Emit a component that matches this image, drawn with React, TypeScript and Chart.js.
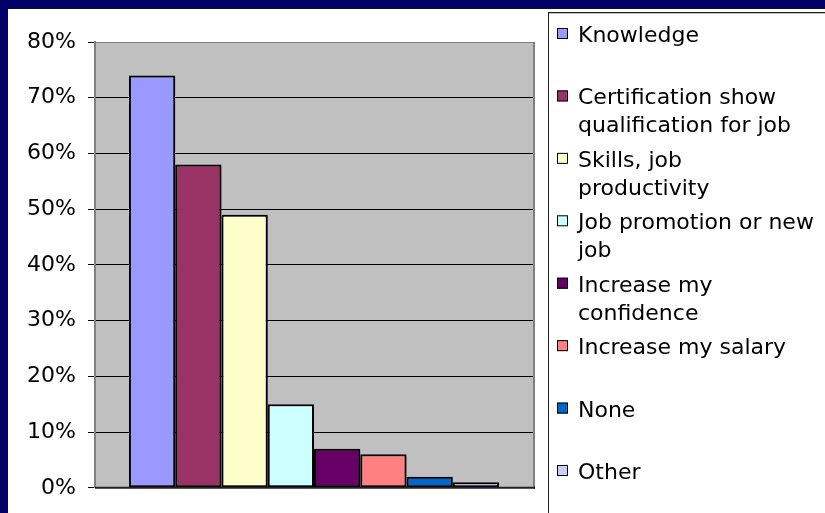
import React, { useEffect, useRef } from "react";
import { Chart, registerables } from "chart.js";

Chart.register(...registerables);

const categories = [""];
const seriesNames = [
  "Knowledge",
  "Certification show\nqualification for job",
  "Skills, job\nproductivity",
  "Job promotion or new\njob",
  "Increase my\nconfidence",
  "Increase my salary",
  "None",
  "Other",
];
const seriesValues = [74, 58, 49, 15, 7, 6, 2, 1];
const seriesColors = [
  "#9999FF",
  "#993366",
  "#FFFFCC",
  "#CCFFFF",
  "#660066",
  "#FF8080",
  "#0066CC",
  "#CCCCFF",
];
const yMin = 0;
const yMax = 80;
const yStep = 10;

const FONT = "'DejaVu Sans', Verdana, sans-serif";

const bgPlugin = {
  id: "bgPlugin",
  beforeDraw(chart: any) {
    const { ctx, chartArea: a, width, height } = chart;
    ctx.save();
    ctx.fillStyle = "#000066";
    ctx.fillRect(0, 0, width, height);
    ctx.fillStyle = "#111122";
    ctx.fillRect(8, 8, width - 8, 1);
    ctx.fillStyle = "#ffffff";
    ctx.fillRect(8, 9, width - 8, height - 9);
    ctx.fillStyle = "#C0C0C0";
    ctx.fillRect(a.left, a.top, a.right - a.left, a.bottom - a.top);
    ctx.restore();
  },
  beforeDatasetsDraw(chart: any) {
    const { ctx } = chart;
    ctx.save();
    ctx.shadowColor = "rgba(0,0,0,0.35)";
    ctx.shadowOffsetX = 1;
    ctx.shadowOffsetY = 1;
    ctx.shadowBlur = 1;
  },
  afterDatasetsDraw(chart: any) {
    const { ctx, chartArea: a } = chart;
    ctx.restore();
    ctx.save();
    ctx.strokeStyle = "#808080";
    ctx.lineWidth = 2;
    ctx.beginPath();
    ctx.moveTo(a.right + 1, a.top);
    ctx.lineTo(a.right + 1, a.bottom + 1);
    ctx.stroke();
    ctx.strokeStyle = "#222222";
    ctx.lineWidth = 2;
    ctx.beginPath();
    ctx.moveTo(a.left, a.bottom);
    ctx.lineTo(a.right + 2, a.bottom);
    ctx.stroke();
    ctx.restore();
  },
};

const legendPlugin = {
  id: "customLegend",
  afterDraw(chart: any) {
    const { ctx, width, height } = chart;
    ctx.save();
    ctx.strokeStyle = "#222222";
    ctx.lineWidth = 1;
    ctx.strokeRect(548.5, 12.5, width, height);
    ctx.strokeStyle = "#bbbbbb";
    ctx.beginPath();
    ctx.moveTo(549, 13.5);
    ctx.lineTo(width, 13.5);
    ctx.stroke();
    ctx.font = `22px ${FONT}`;
    ctx.textBaseline = "alphabetic";
    ctx.textAlign = "left";
    chart.data.datasets.forEach((ds: any, i: number) => {
      const base = 42 + i * 62.43;
      ctx.fillStyle = ds.backgroundColor;
      ctx.fillRect(557, base - 14, 11, 11);
      ctx.strokeStyle = "#000000";
      ctx.lineWidth = 1;
      ctx.strokeRect(557.5, base - 13.5, 10, 10);
      ctx.fillStyle = "#000000";
      const lines = String(ds.label).split("\n");
      lines.forEach((ln: string, j: number) => ctx.fillText(ln, 578, base + j * 28));
    });
    ctx.restore();
  },
};

export default function App() {
  const ref = useRef<HTMLCanvasElement | null>(null);
  useEffect(() => {
    if (!ref.current) return;
    const chart = new Chart(ref.current, {
      type: "bar",
      data: {
        labels: categories,
        datasets: seriesNames.map((name, i) => ({
          label: name,
          data: [seriesValues[i]],
          backgroundColor: seriesColors[i],
          borderColor: "#000000",
          borderWidth: 2,
          borderSkipped: false,
          categoryPercentage: 0.845,
          barPercentage: 1,
        })),
      },
      options: {
        animation: false,
        responsive: false,
        devicePixelRatio: 1,
        layout: { padding: { left: 0, right: 292, top: 42, bottom: 25 } },
        plugins: { legend: { display: false }, tooltip: { enabled: false } },
        scales: {
          x: { display: false },
          y: {
            min: yMin,
            max: yMax,
            afterFit: (s: any) => {
              s.width = 95;
            },
            ticks: {
              stepSize: yStep,
              color: "#000000",
              padding: 12,
              font: { family: FONT, size: 22 },
              callback: (v: any) => `${v}%`,
            },
            grid: {
              color: (c: any) =>
                c.tick && c.tick.value === yMax ? "#808080" : "#000000",
              tickColor: "#000000",
              tickLength: 7,
              lineWidth: 1,
            },
            border: { color: "#808080", width: 2 },
          },
        },
      },
      plugins: [bgPlugin, legendPlugin],
    });
    return () => chart.destroy();
  }, []);
  return (
    <div style={{ position: "absolute", left: 0, top: 0, width: 825, height: 513 }}>
      <canvas ref={ref} width={825} height={513} />
    </div>
  );
}
